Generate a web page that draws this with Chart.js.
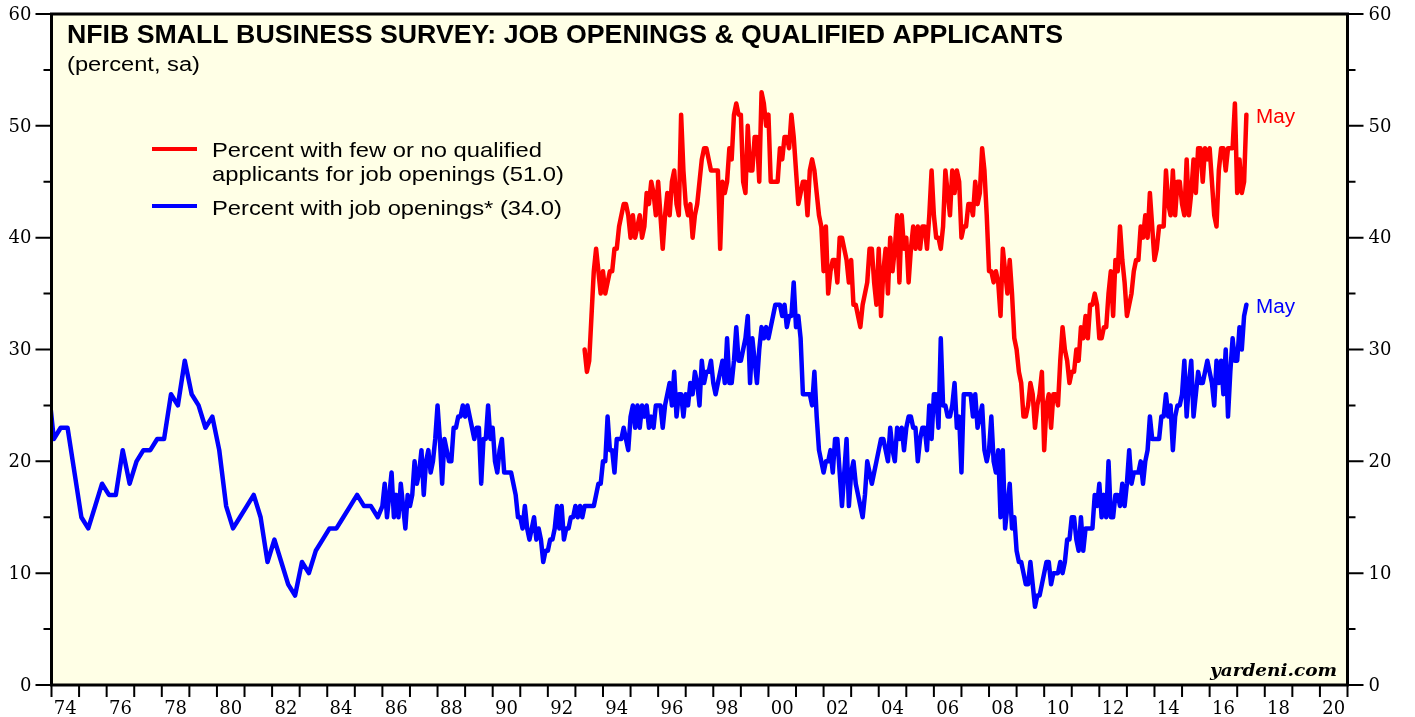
<!DOCTYPE html>
<html>
<head>
<meta charset="utf-8">
<script src="https://cdn.jsdelivr.net/npm/chart.js@4.4.0/dist/chart.umd.min.js"></script>
<style>
    html, body { margin: 0; padding: 0; background: #fff; }
    #wrap { width: 1415px; height: 717px; }
</style>
</head>
<body>
<div id="wrap"><canvas id="myChart" width="1415" height="717"></canvas></div>
<script>
// blue series: quarterly (Feb/May/Aug/Nov) until 1985, first point Nov 1973 (clipped)
const blueQuarterly = [28,
    22, 23, 23, 19,  15, 14, 16, 18,  17, 17, 21, 18,  20, 21, 21, 22,
    22, 26, 25, 29,  26, 25, 23, 24,  21, 16, 14, 15,  16, 17, 15, 11,
    13, 11, 9, 8,    11, 10, 12, 13,  14, 14, 15, 16,  17, 16, 16, 15];

// blue series: monthly from Jan 1986
const blueMonthly = [
    16, 18, 15, 17, 19, 15, 17, 15, 18, 16, 14, 17, // 86
    16, 17, 20, 18, 19, 21, 17, 20, 21, 19, 20, 22, // 87
    25, 22, 18, 22, 21, 20, 20, 23, 23, 24, 24, 25, // 88
    24, 25, 24, 23, 22, 23, 23, 18, 22, 22, 25, 22, // 89
    23, 20, 19, 21, 22, 19, 19, 19, 19, 18, 17, 15, // 90
    15, 14, 16, 14, 13, 14, 15, 13, 14, 13, 11, 12, // 91
    12, 13, 13, 14, 16, 14, 16, 13, 14, 14, 15, 15, // 92
    16, 15, 16, 15, 16, 16, 16, 16, 16, 17, 18, 18, // 93
    20, 20, 24, 21, 21, 19, 22, 22, 22, 23, 22, 21, // 94
    24, 25, 23, 25, 23, 25, 24, 25, 23, 24, 23, 25, // 95
    25, 25, 23, 25, 26, 27, 25, 28, 24, 26, 26, 24, // 96
    26, 25, 27, 26, 28, 27, 25, 29, 27, 28, 28, 29, // 97
    27, 26, 27, 28, 29, 27, 31, 27, 27, 29, 32, 29, // 98
    29, 30, 31, 33, 27, 31, 29, 27, 30, 32, 31, 32, // 99
    31, 32, 33, 34, 34, 34, 33, 34, 32, 33, 33, 36, // 00
    32, 33, 31, 26, 26, 26, 26, 25, 28, 24, 21, 20, // 01
    19, 20, 20, 21, 19, 22, 22, 19, 16, 19, 22, 16, // 02
    19, 20, 18, 17, 16, 15, 17, 20, 19, 18, 19, 20, // 03
    21, 22, 22, 21, 20, 23, 21, 20, 23, 22, 23, 21, // 04
    23, 24, 24, 23, 23, 20, 22, 23, 23, 21, 25, 22, // 05
    26, 26, 23, 31, 25, 25, 24, 24, 25, 27, 23, 24, // 06
    19, 26, 26, 26, 26, 24, 26, 23, 24, 25, 21, 20, // 07
    21, 24, 20, 19, 21, 15, 21, 14, 16, 18, 14, 15, // 08
    12, 11, 11, 10, 9, 9, 11, 9, 7, 8, 8, 9,         // 09
    10, 11, 11, 9, 10, 10, 10, 11, 10, 11, 13, 13,   // 10
    15, 15, 13, 12, 15, 12, 14, 14, 14, 14, 17, 16,  // 11
    18, 15, 17, 15, 20, 15, 15, 17, 17, 16, 18, 16,  // 12
    18, 21, 18, 19, 19, 19, 20, 18, 20, 21, 24, 22,  // 13
    22, 22, 22, 24, 24, 26, 24, 25, 21, 24, 25, 25,  // 14
    26, 29, 24, 27, 29, 24, 26, 28, 27, 27, 28, 29,  // 15
    28, 27, 25, 29, 27, 29, 26, 30, 24, 28, 31, 29,  // 16
    29, 32, 30, 33, 34];                             // 17 Jan-May

// red series: monthly from May 1993
const redMonthly = [
    30, 28, 29, 33, 37, 39, 37, 35,                  // 93 May-Dec
    37, 35, 36, 37, 37, 39, 39, 41, 42, 43, 43, 42,  // 94
    40, 42, 40, 41, 42, 40, 41, 44, 43, 45, 44, 42,  // 95
    45, 42, 39, 42, 44, 42, 45, 46, 43, 42, 51, 46,  // 96
    43, 42, 43, 40, 42, 43, 45, 47, 48, 48, 47, 46,  // 97
    46, 46, 46, 39, 45, 44, 45, 48, 47, 51, 52, 51,  // 98
    51, 45, 44, 50, 46, 46, 49, 49, 45, 53, 52, 50,  // 99
    51, 45, 45, 45, 45, 48, 47, 49, 49, 48, 51, 49,  // 00
    46, 43, 44, 45, 45, 42, 46, 47, 46, 44, 42, 41,  // 01
    37, 41, 35, 37, 38, 38, 36, 40, 40, 39, 38, 36,  // 02
    38, 34, 34, 33, 32, 34, 35, 36, 39, 39, 36, 34,  // 03
    39, 33, 37, 39, 35, 40, 37, 39, 42, 36, 42, 39,  // 04
    40, 36, 39, 41, 39, 41, 39, 41, 41, 39, 42, 46,  // 05
    42, 40, 40, 39, 41, 46, 44, 42, 46, 44, 46, 45,  // 06
    40, 41, 41, 43, 43, 42, 45, 43, 44, 48, 46, 42,  // 07
    37, 37, 36, 37, 36, 33, 39, 37, 35, 38, 35, 31,  // 08
    30, 28, 27, 24, 24, 25, 27, 26, 23, 25, 26, 28,  // 09
    21, 25, 26, 23, 26, 26, 25, 29, 32, 30, 29, 27,  // 10
    28, 28, 30, 29, 32, 31, 33, 31, 34, 34, 35, 34,  // 11
    31, 31, 32, 32, 35, 37, 33, 38, 37, 41, 38, 36,  // 12
    33, 34, 35, 37, 38, 38, 41, 40, 42, 40, 44, 41,  // 13
    38, 39, 41, 41, 41, 46, 43, 42, 46, 42, 45, 45,  // 14
    43, 42, 47, 42, 44, 47, 44, 48, 48, 45, 48, 47,  // 15
    48, 45, 42, 41, 46, 48, 48, 46, 48, 48, 48, 52,  // 16
    44, 47, 44, 45, 51];                             // 17 Jan-May

const yTickLabels = [0, 10, 20, 30, 40, 50, 60];
const xTickLabels = ['74', '76', '78', '80', '82', '84', '86', '88', '90', '92', '94', '96',
    '98', '00', '02', '04', '06', '08', '10', '12', '14', '16', '18', '20'];
const seriesNames = ['Percent with few or no qualified', 'applicants for job openings (51.0)',
    'Percent with job openings* (34.0)'];

function toPoints(values, startYear, startMonth, step) {
    return values.map((v, i) => ({ x: startYear + (startMonth + i * step) / 12, y: v }));
}

const bluePoints = toPoints(blueQuarterly, 1973, 10, 3).concat(toPoints(blueMonthly, 1986, 0, 1));
const redPoints = toPoints(redMonthly, 1993, 4, 1);

// draw text stretched to a given width (reference text is wider than our fonts)
function fitText(ctx, text, x, y, font, color, width) {
    ctx.save();
    ctx.font = font;
    ctx.fillStyle = color;
    ctx.textAlign = 'left';
    ctx.textBaseline = 'alphabetic';
    const w = ctx.measureText(text).width;
    ctx.translate(x, y);
    ctx.scale(width ? width / w : 1, 1);
    ctx.fillText(text, 0, 0);
    ctx.restore();
}

const decor = {
    id: 'decor',
    beforeDatasetsDraw(chart) {
        const { ctx, chartArea: a } = chart;
        ctx.save();
        ctx.fillStyle = '#FFFFE6';
        ctx.fillRect(a.left, a.top, a.right - a.left, a.bottom - a.top);
        ctx.restore();
    },
    afterDatasetsDraw(chart) {
        const { ctx, chartArea: a } = chart;
        const xs = chart.scales.x;
        const ys = chart.scales.y;
        ctx.save();

        // frame
        ctx.strokeStyle = '#000';
        ctx.lineWidth = 3;
        ctx.strokeRect(a.left, a.top, a.right - a.left, a.bottom - a.top);

        // y ticks both sides
        ctx.lineWidth = 2;
        ctx.beginPath();
        for (let v = 0; v <= 60; v += 5) {
            const py = ys.getPixelForValue(v);
            const len = v % 10 === 0 ? 16 : 8;
            ctx.moveTo(a.left, py); ctx.lineTo(a.left - len, py);
            ctx.moveTo(a.right, py); ctx.lineTo(a.right + len, py);
        }
        // x ticks every year
        for (let yr = 1974; yr <= 2021; yr++) {
            const px = xs.getPixelForValue(yr);
            ctx.moveTo(px, a.bottom); ctx.lineTo(px, a.bottom + 12);
        }
        ctx.stroke();

        // tick labels
        ctx.fillStyle = '#000';
        ctx.font = '18px "DejaVu Serif"';
        ctx.textBaseline = 'middle';
        yTickLabels.forEach(v => {
            const py = ys.getPixelForValue(v) + 1;
            ctx.textAlign = 'right';
            ctx.fillText(String(v), a.left - 20, py);
            ctx.textAlign = 'left';
            ctx.fillText(String(v), a.right + 21, py);
        });
        ctx.textAlign = 'center';
        ctx.textBaseline = 'alphabetic';
        xTickLabels.forEach((lab, i) => {
            ctx.fillText(lab, xs.getPixelForValue(1974 + i * 2 + 0.5), 714);
        });

        // title
        fitText(ctx, 'NFIB SMALL BUSINESS SURVEY: JOB OPENINGS & QUALIFIED APPLICANTS',
            67, 43, 'bold 25px "Liberation Sans"', '#000', 996);
        fitText(ctx, '(percent, sa)', 67, 71, '20px "Liberation Sans"', '#000', 133);

        // legend
        ctx.lineWidth = 4;
        ctx.strokeStyle = '#FF0000';
        ctx.beginPath(); ctx.moveTo(152, 149); ctx.lineTo(197, 149); ctx.stroke();
        ctx.strokeStyle = '#0000FF';
        ctx.beginPath(); ctx.moveTo(152, 206); ctx.lineTo(197, 206); ctx.stroke();
        fitText(ctx, seriesNames[0], 212, 157, '21px "Liberation Sans"', '#000', 330);
        fitText(ctx, seriesNames[1], 212, 181, '21px "Liberation Sans"', '#000', 352);
        fitText(ctx, seriesNames[2], 212, 215, '21px "Liberation Sans"', '#000', 350);

        // end labels
        fitText(ctx, 'May', 1256, 123, '20px "Liberation Sans"', '#FF0000', 39);
        fitText(ctx, 'May', 1256, 313, '20px "Liberation Sans"', '#0000FF', 39);

        fitText(ctx, 'yardeni.com', 1210, 676, 'bold italic 17px "DejaVu Serif"', '#000', 127);
        ctx.restore();
    }
};

const ctx = document.getElementById('myChart').getContext('2d');
const myChart = new Chart(ctx, {
    type: 'line',
    data: {
        datasets: [{
            label: 'Percent with job openings',
            data: bluePoints,
            borderColor: '#0000FF',
            borderWidth: 4.5,
            pointRadius: 0,
            tension: 0,
            borderJoinStyle: 'round',
            borderCapStyle: 'round',
        }, {
            label: 'Percent with few or no qualified applicants',
            data: redPoints,
            borderColor: '#FF0000',
            borderWidth: 4.5,
            pointRadius: 0,
            tension: 0,
            borderJoinStyle: 'round',
            borderCapStyle: 'round',
        }]
    },
    options: {
        responsive: false,
        animation: false,
        devicePixelRatio: 1,
        layout: { padding: { left: 51.5, right: 67.5, top: 14, bottom: 32 } },
        plugins: { legend: { display: false }, tooltip: { enabled: false } },
        scales: {
            x: { type: 'linear', min: 1974, max: 2021, display: false },
            y: { min: 0, max: 60, display: false }
        }
    },
    plugins: [decor]
});
</script>
</body>
</html>
